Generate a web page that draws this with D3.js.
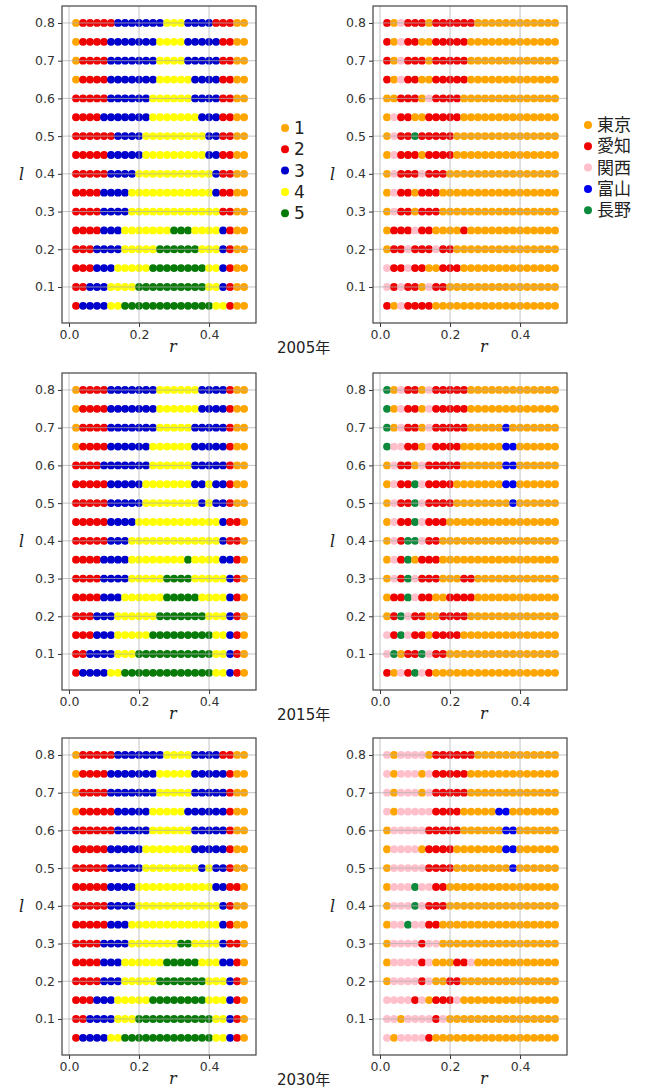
<!DOCTYPE html>
<meta charset="utf-8">
<style>
body { margin: 0; background: #fff; }
.tick text { font-family: "DejaVu Sans", sans-serif; font-size: 12.5px; fill: #333; }
.tick line { stroke: #333; }
.domain { display: none; }
.grid line { stroke: #b0b0b0; stroke-width: 0.9; stroke-opacity: 0.85; }
.frame { fill: none; stroke: #444; stroke-width: 1.2; }
.axlab { font-family: "DejaVu Serif", serif; font-style: italic; font-size: 16px; fill: #222; }
.year { font-family: "DejaVu Sans", "Noto Sans CJK JP", sans-serif; font-size: 15px; fill: #222; }
.leg text { font-family: "DejaVu Sans", "Noto Sans CJK JP", sans-serif; font-size: 17px; fill: #222; }
</style>
<svg width="648" height="1091"></svg>
<script src="https://d3js.org/d3.v7.min.js"></script>
<script>
// r = 0.02 .. 0.50, l = 0.80 .. 0.05 (one string per row, one digit per dot)
var rValues = d3.range(25).map(function(i) { return +(0.02 + 0.02 * i).toFixed(2); });
var lValues = d3.range(16).map(function(i) { return +(0.8 - 0.05 * i).toFixed(2); });
var years = ["2005年", "2015年", "2030年"];

var clusterNames = ["1", "2", "3", "4", "5"];
var clusterColors = ["#ffa500", "#f00000", "#0000cd", "#ffff00", "#087a08"];
var regionNames = ["東京", "愛知", "関西", "富山", "長野"];
var regionColors = ["#ffa500", "#f00000", "#ffc0cb", "#0000f0", "#0e8a3c"];

var cluster2005 = [
  "1222223333333444333322211",
  "1222233333334444333332211",
  "1222233333334444333332211",
  "1222233333334444433332211",
  "2222233333344444433332211",
  "2222333333344444443332211",
  "2222223333444444444332211",
  "2222233333444444444332211",
  "2222233334444444444432211",
  "2222333344444444444432211",
  "2222333344444444444442211",
  "2222333444444455544443211",
  "2223333444445555554443211",
  "2223334444455555555443211",
  "2233344445555555555443211",
  "2333344555555555555544211"
];
var region2005 = [
  "2132221222222111111111111",
  "2132211222221111111111111",
  "2132221222221111111111111",
  "2132211222221111111111111",
  "1122213222211111111111111",
  "1322112222211111111111111",
  "1322522222111111111111111",
  "1322212222111111111111111",
  "1322232221111111111111111",
  "1322122211111111111111111",
  "1322122211111111111111111",
  "1222322111121111111111111",
  "1223222322111111111111111",
  "3223221122211111111111111",
  "3232213221111111111111111",
  "2132222111111111111111111"
];
var cluster2015 = [
  "1222233333334444443333211",
  "1222233333334444443333211",
  "1222233333334444433333211",
  "1222233333344444433333211",
  "2222333333344444433333211",
  "2222233333444444433433211",
  "2222233333444444443433211",
  "2222233334444444444443221",
  "2222233344444444444443221",
  "2222333344444444544443321",
  "2222333344444555544444321",
  "2222333444444555554444321",
  "2223334444445555555444321",
  "2223334444455555555544321",
  "2233334445555555555544321",
  "2333344555555555555544321"
];
var region2015 = [
  "5132213222221111111111111",
  "5132213222221111111111111",
  "5132213222221111141111111",
  "5332213222211111144111111",
  "1322132222211111144111111",
  "1322532222111111144111111",
  "1322532222111111114111111",
  "1322532221111111111111111",
  "1325532211111111111111111",
  "1325122211111111111111111",
  "1325322211122111111111111",
  "1225322112222111111111111",
  "1253221122221111111111111",
  "3253221222211111111111111",
  "3512253221111111111111111",
  "2132532111111111111111111"
];
var cluster2030 = [
  "1222223333333444433332211",
  "1222233333334444433333211",
  "1222233333334444433333211",
  "1222223333344444333333211",
  "2222223333344444433333211",
  "2222233333444444433333211",
  "2222233333444444443433211",
  "2222233334444444444433221",
  "2222233334444444444443211",
  "2222233344444444444443211",
  "2222333344444445544443221",
  "2222333444444555554443321",
  "2222333444445555555444321",
  "2223334444455555555444321",
  "2233334445555555555544321",
  "2333344555555555555544321"
];
var region2030 = [
  "3133331222222111111111111",
  "3133313222221111111111111",
  "3133313222221111111111111",
  "3133333222211111441111111",
  "1333332222211111144111111",
  "1333312222111111144111111",
  "1333332222111111114111111",
  "1333533221111111111111111",
  "1333532221111111111111111",
  "1335332211111111111111111",
  "1333323311111111111111111",
  "1333323111223111111111111",
  "1333323112211111111111111",
  "3333231222311111111111111",
  "3313333231111111111111111",
  "3133332111111111111111111"
];

var svg = d3.select("svg");
var W = 194, H = 317;
var rowTop = [6, 373, 738];
var colLeft = [62, 373];

var x = d3.scaleLinear().domain([-0.02, 0.534]).range([0, W]);
var y = d3.scaleLinear().domain([0.0045, 0.845]).range([H, 0]);

var panels = [
  [cluster2005, region2005], [cluster2015, region2015], [cluster2030, region2030]
];

function toPoints(rows) {
  var pts = [];
  rows.forEach(function(s, j) {
    for (var i = 0; i < s.length; i++) {
      pts.push({r: rValues[i], l: lValues[j], c: +s[i] - 1});
    }
  });
  return pts;
}

panels.forEach(function(pair, row) {
  pair.forEach(function(rows, col) {
    var colors = col == 0 ? clusterColors : regionColors;
    var g = svg.append("g")
        .attr("transform", "translate(" + colLeft[col] + "," + rowTop[row] + ")");

    g.append("g").attr("transform", "translate(0," + H + ")")
        .call(d3.axisBottom(x).tickValues([0, 0.2, 0.4]).tickFormat(d3.format(".1f")).tickSize(4).tickPadding(3));
    g.append("g")
        .call(d3.axisLeft(y).tickValues(d3.range(1, 9).map(function(k) { return k / 10; }))
          .tickFormat(d3.format(".1f")).tickSize(4).tickPadding(3));

    g.append("g").selectAll("circle")
        .data(toPoints(rows))
        .enter().append("circle")
        .attr("cx", function(d) { return x(d.r); })
        .attr("cy", function(d) { return y(d.l); })
        .attr("r", 3.9)
        .attr("fill", function(d) { return colors[d.c]; });

    var grid = g.append("g").attr("class", "grid");
    grid.selectAll(".gx").data([0, 0.2, 0.4]).enter().append("line")
        .attr("x1", function(d) { return x(d); }).attr("x2", function(d) { return x(d); })
        .attr("y1", 0).attr("y2", H);
    grid.selectAll(".gy").data(d3.range(1, 9).map(function(k) { return k / 10; })).enter().append("line")
        .attr("x1", 0).attr("x2", W)
        .attr("y1", function(d) { return y(d); }).attr("y2", function(d) { return y(d); });

    g.append("rect").attr("class", "frame").attr("width", W).attr("height", H);

    g.append("text").attr("class", "axlab").attr("x", -43).attr("y", 174).text("l");
    g.append("text").attr("class", "axlab").attr("x", 107).attr("y", H + 29).text("r");

    if (col == 0) {
      g.append("text").attr("class", "year").attr("x", 215).attr("y", H + 30).text(years[row]);
    }
  });
});

function legend(x0, y0, names, colors) {
  var lg = svg.append("g").attr("class", "leg");
  names.forEach(function(n, k) {
    lg.append("circle").attr("cx", x0).attr("cy", y0 + k * 21.3).attr("r", 4).attr("fill", colors[k]);
    lg.append("text").attr("x", x0 + 9).attr("y", y0 + k * 21.3 + 6).text(n);
  });
}
legend(285, 128, clusterNames, clusterColors);
legend(588, 125, regionNames, regionColors);
</script>
